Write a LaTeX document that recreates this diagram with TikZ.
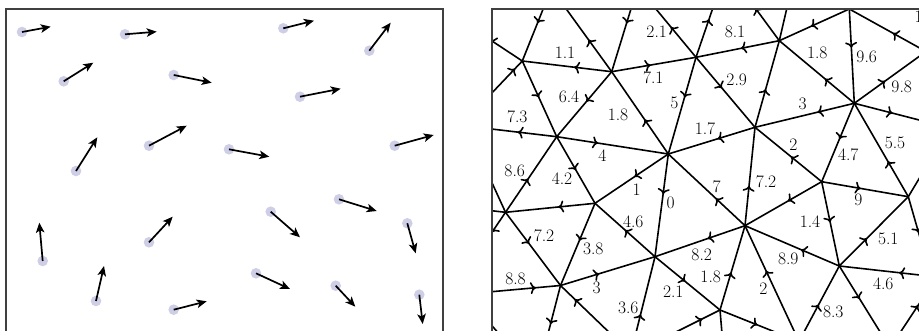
\documentclass[tikz,border=0pt]{standalone}
\usetikzlibrary{arrows.meta,decorations.markings}
\definecolor{dotc}{RGB}{206,206,230}
\begin{document}
\begin{tikzpicture}[x=1pt,y=-1pt,
  frame/.style={draw=black!75,line width=2pt},
  dot/.style={circle,fill=dotc,draw=none,minimum size=10.6pt,inner sep=0pt},
  vec/.style={line width=1.7pt,-{Stealth[length=10pt,width=8.5pt,inset=2.5pt]}},
  edge/.style={line width=1.6pt},
  ar/.style={postaction={decorate},decoration={markings,mark=at position #1 with {\arrow{To[length=5.5pt,width=12pt,line width=1.6pt]}}}},
  lab/.style={inner sep=0pt,font=\fontsize{17.5}{20}\selectfont}]
\useasboundingbox (0,0) rectangle (919,331);

% ---------- left panel: vectors at points ----------
\foreach \i/\x/\y/\u/\v in {
  1/22/32/50.7/26.7, 2/125/34.3/156.7/31.7, 3/283.3/28.3/314/20.7,
  4/369.3/50.7/390.7/22.7, 5/63.7/81.3/93.3/62.7, 6/173.7/75/211.7/82.7,
  7/300/96.7/340.7/88.7, 8/76/171/97.3/137.3, 9/149/145.7/186.7/125.7,
  10/229/149.3/269.3/156.7, 11/394.7/145.7/433.7/135, 12/42.7/261/39.3/222.7,
  13/149/242.3/172.7/216.7, 14/96/301/104/266, 15/173.7/309.7/206.7/301.3,
  16/270.7/211.7/300/237.3, 17/339/199.3/376.7/211, 18/407.3/223.3/415.7/253.3,
  19/256/273.3/290/289, 20/335.7/285.7/355.3/306.7, 21/419.3/294.7/422.7/324}
{
  \node[dot] (d\i) at (\x,\y) {};
  \coordinate (h\i) at (\u,\v);
  \draw[vec] (d\i.center) -- (h\i);
}

% ---------- right panel: oriented triangulation ----------
\foreach \n/\x/\y in {
  A/522.3/61, B/611.7/71.7, C/556.7/136.7, D/696/57.3, E/668.3/154,
  F/755/127.3, G/779.3/40.7, H/849.3/9, I/854.3/103.3, J/505.5/212.3,
  K/595/203.3, L/560.5/285.5, M/655/256.7, N/745/225.7, O/720/310,
  P/821.7/181.7, Q/908.3/196.7, R/839.3/266,
  T1/549.4/-6.7, T3/559/-1, V2/637.7/-13, V3/726.3/-31.3, T7/799.7/-47,
  V1/926/51.5, T10/940.9/125.6, T12/939.1/145.2, B5/931.5/277.8,
  B6/946.3/278, B9/890/348, B10/948/260, B8/885.4/340.5, B7/802.5/334.8,
  B13/804.8/343.9, B4/796/335, B14/725.1/369.8, B12/670/335,
  B3/629.3/359.6, B2/615/338, B1/537.8/373.2, B15/511.3/348,
  W8/466.3/296.2, W7/484/292.4, W5/475.1/257.3, W6/426/203.3,
  V4/466/126, W2/489/96, W1/450/13.3}
{ \coordinate (\n) at (\x,\y); }

\begin{scope}
\clip (491.7,9) rectangle (925,340);
\foreach \s/\t/\p in {
  T1/A/0.44, V2/B/0.43, B/T3/0.44, A/W1/0.44, W2/A/0.78, B/A/0.42,
  A/C/0.48, B/C/0.46, C/V4/0.43, C/E/0.37, J/C/0.445, C/K/0.50,
  D/V2/0.43, D/V3/0.43, G/V3/0.45, G/D/0.46, B/D/0.46, D/E/0.415,
  D/F/0.44, E/B/0.42, F/E/0.43, F/G/0.44, H/G/0.545, I/G/0.39,
  H/I/0.41, V1/H/0.43, I/V1/0.43, I/T10/0.44, I/F/0.37, I/P/0.455,
  Q/I/0.38, P/F/0.46, E/K/0.46, E/M/0.39, N/E/0.38, N/F/0.405,
  K/J/0.41, M/K/0.50, K/L/0.455, J/W5/0.44, J/L/0.43, W7/L/0.677,
  L/M/0.41, L/B1/0.44, B2/L/0.74, B3/M/0.44, M/O/0.465, N/M/0.415,
  O/N/0.445, B4/N/0.588, P/N/0.44, R/N/0.405, P/Q/0.45, P/R/0.48,
  R/Q/0.40, Q/B5/0.44, B6/R/0.44, B7/R/0.44, R/B8/0.44, B9/B10/0.485,
  B12/O/0.644, O/B13/0.44}
{ \draw[edge,ar=\p] (\s) -- (\t); }
\foreach \s/\t in {G/T7, J/V4, J/W6, Q/T12, O/B14, W8/B15}
{ \draw[edge] (\s) -- (\t); }
\end{scope}

\foreach \x/\y/\t [count=\k] in {
  565/53/1.1, 569/97/6.4, 517.3/117/7.3, 602.3/156/4, 656.7/31.7/2.1,
  735/31.7/8.1, 653.3/77.3/7.1, 674.3/102.7/5, 736.7/80/2.9, 618/115/1.8,
  705/128.3/1.7, 817.3/53.3/1.8, 866.7/56.7/9.6, 901.7/87.3/9.8,
  802.7/104/3, 793.3/145/2, 848.3/155/4.7, 895/143.3/5.5, 514.7/170.7/8.6,
  562/179/4.2, 636.7/189.3/1, 670.7/202.7/0, 716.7/186.7/7, 766/182/7.2,
  858.3/200/9, 810/221.7/1.4, 888.3/239.3/5.1, 544/236/7.2, 593.3/249.3/3.8,
  633.3/221.7/4.6, 701.7/255/8.2, 788.3/259.3/8.9, 710.7/276.7/1.8,
  763.3/288.3/2, 883.3/283.3/4.6, 515.5/279.3/8.8, 596.7/288.3/3,
  628.3/308.3/3.6, 673.3/291.7/2.1, 833.3/311.7/8.3}
{ \node[lab] (w\k) at (\x,\y) {\t}; }
\node[lab,anchor=west] (wcut) at (914.5,17) {1};

% ---------- frames ----------
\draw[frame] (6,345) -- (6,9) -- (443.3,9) -- (443.3,345);
\draw[frame] (491.7,345) -- (491.7,9) -- (935,9);
\end{tikzpicture}
\end{document}
